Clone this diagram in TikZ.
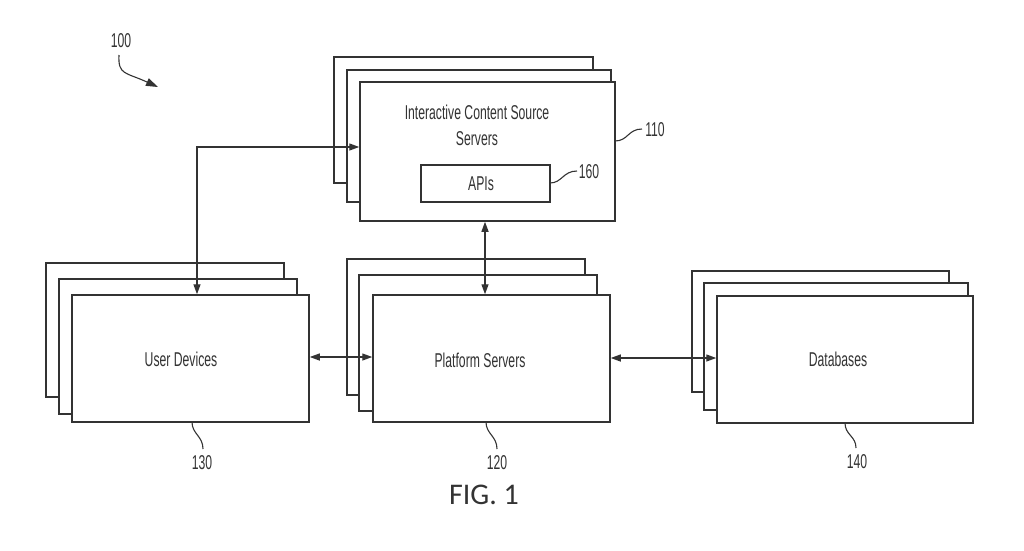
\documentclass[tikz,border=0pt]{standalone}
\usepackage{fontspec}
\setmainfont{Liberation Sans}
\newfontfamily\pfont[FakeStretch=0.61]{Liberation Sans}
\newfontfamily\figfont{Carlito}
\usetikzlibrary{arrows.meta}
\definecolor{ink}{HTML}{333333}
\begin{document}
\begin{tikzpicture}[x=1pt,y=-1pt,
  box/.style={draw=ink, line width=1.5pt, fill=white, rectangle, inner sep=0pt},
  lbl/.style={font=\pfont\fontsize{20}{26}\selectfont, text=ink, align=center, inner sep=0pt},
  conn/.style={draw=ink, line width=1.3pt, {Triangle[length=10pt,width=7pt]}-{Triangle[length=10pt,width=7pt]}},
  lead/.style={draw=ink, line width=1.1pt}]
\useasboundingbox (0,0) rectangle (1024,550);
\fill[white] (0,0) rectangle (1024,550);
% Interactive content source servers (110)
\node[box, minimum width=259pt, minimum height=126pt] (icsb) at (463.5,120) {};
\node[box, minimum width=264pt, minimum height=132pt] (icsm) at (479,136) {};
\node[box, minimum width=255pt, minimum height=139pt] (ics) at (487.5,151.5) {};
\node[lbl] (icst) at (477,125) {Interactive Content Source\\Servers};
\node[box, minimum width=129pt, minimum height=37pt] (api) at (485.5,183.5) {};
\node[lbl] (apit) at (481,183.5) {APIs};
% User devices (130)
\node[box, minimum width=238pt, minimum height=134pt] (udb) at (165,330) {};
\node[box, minimum width=238pt, minimum height=135pt] (udm) at (178,346.5) {};
\node[box, minimum width=237pt, minimum height=127pt] (ud) at (190.5,358.5) {};
\node[lbl] (udt) at (181,359) {User Devices};
% Platform servers (120)
\node[box, minimum width=238pt, minimum height=136pt] (psb) at (466,327) {};
\node[box, minimum width=238pt, minimum height=136pt] (psm) at (478,343) {};
\node[box, minimum width=237pt, minimum height=127pt] (ps) at (491.5,358.5) {};
\node[lbl] (pst) at (480,360) {Platform Servers};
% Databases (140)
\node[box, minimum width=257pt, minimum height=121pt] (dbb) at (820.5,331.5) {};
\node[box, minimum width=264pt, minimum height=127pt] (dbm) at (836,346.5) {};
\node[box, minimum width=256pt, minimum height=127pt] (db) at (845,359.5) {};
\node[lbl] (dbt) at (838,359) {Databases};
% connectors
\coordinate (corner) at (197,147);
\draw[conn] (ud.north -| corner) |- (ics.west |- corner);
\draw[conn] (ics.south -| 485,0) -- (ps.north -| 485,0);
\draw[conn] (ud.east |- 0,357) -- (ps.west |- 0,357);
\draw[conn] (ps.east |- 0,358) -- (db.west |- 0,358);
% reference numerals
\node[lbl] (n100) at (121,41) {100};
\coordinate (a100s) at (119,55);
\coordinate (a100e) at (158,87);
\draw[lead, -{Triangle[length=12pt,width=8pt]}] (a100s) .. controls (118,75) and (125,72) .. (a100e);
\node[lbl] (n110) at (655,130) {110};
\coordinate (l110) at (615,141);
\draw[lead] (l110) .. controls (628,141) and (628,129) .. (642,129);
\node[lbl] (n160) at (589,172) {160};
\coordinate (l160) at (550,183);
\draw[lead] (l160) .. controls (562,183) and (563,171) .. (577,171);
\node[lbl] (n130) at (202,463) {130};
\coordinate (l130) at (192,422);
\draw[lead] (l130) .. controls (192,434) and (203,436) .. (203,449);
\node[lbl] (n120) at (497,463) {120};
\coordinate (l120) at (486,422);
\draw[lead] (l120) .. controls (486,434) and (497,436) .. (497,449);
\node[lbl] (n140) at (857,462) {140};
\coordinate (l140) at (845,423);
\draw[lead] (l140) .. controls (845,435) and (856,436) .. (856,448);
\node[font=\figfont\fontsize{30}{34}\selectfont, text=ink, inner sep=0pt] (fig) at (484,495) {FIG. 1};
\end{tikzpicture}
\end{document}
